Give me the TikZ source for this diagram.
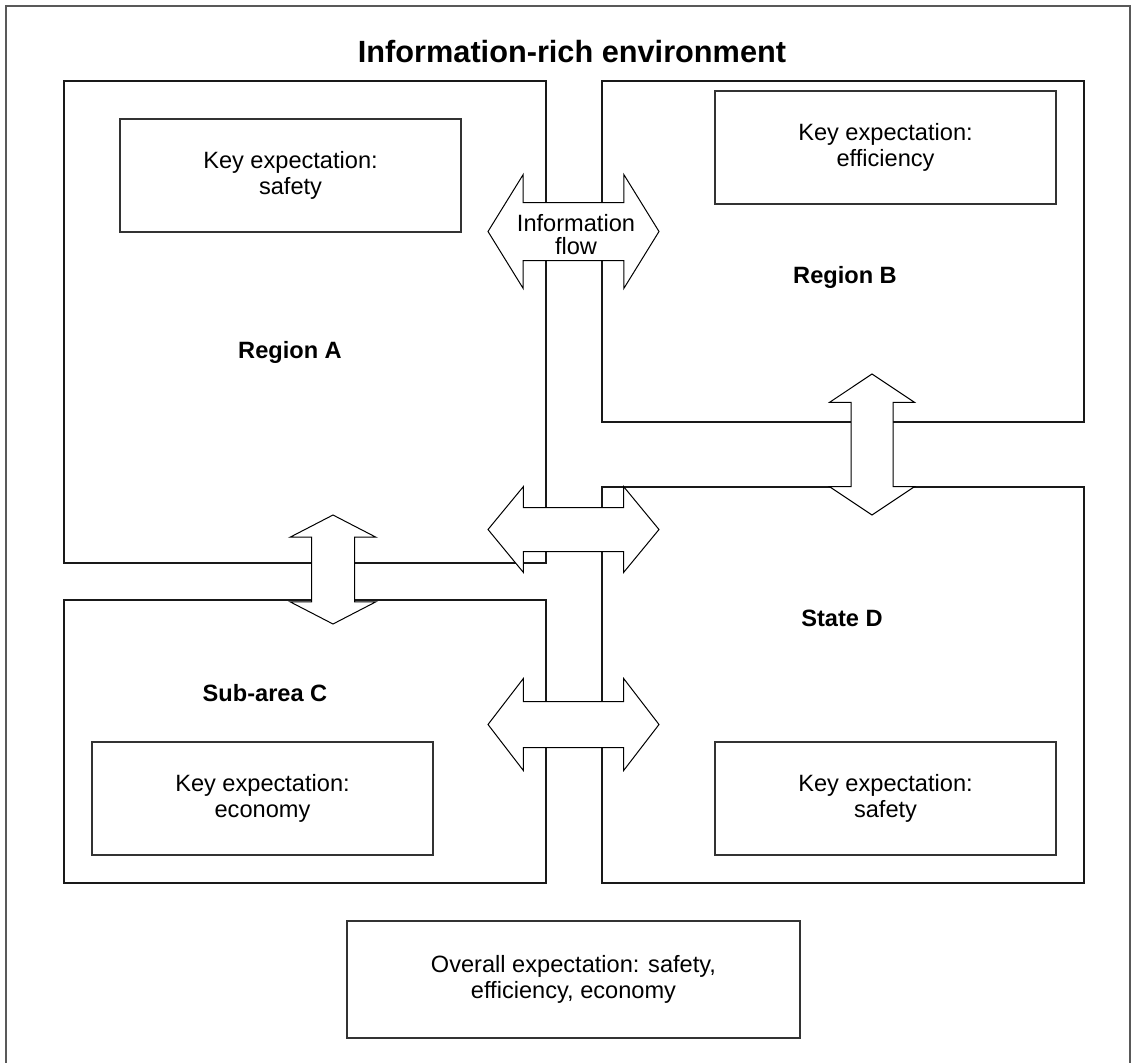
\documentclass[tikz,border=0pt]{standalone}
\usepackage{fontspec}
\setmainfont{Liberation Sans}
\usetikzlibrary{shapes.arrows}

\begin{document}
\begin{tikzpicture}[x=1pt,y=-1pt]

\tikzset{region/.style = {draw=black!90, line width=2.6pt, inner sep=0pt}}
\tikzset{keybox/.style = {draw=black!80, line width=1.2pt, inner sep=0pt, minimum width=341, minimum height=113, align=center, font=\fontsize{23.6}{26.5}\selectfont}}
\tikzset{regionname/.style = {font=\fontsize{23.6}{26.5}\selectfont\bfseries}}
\tikzset{flow/.style = {double arrow, draw=black, fill=white, line width=1pt, inner sep=0pt}}
\useasboundingbox (0,0) rectangle (1134,1062);

%frame
\draw[black!65, line width=1.2pt] (6,1070) -- (6,6) -- (1130,6) -- (1130,1070);
\node[font=\fontsize{30.7}{36}\selectfont\bfseries, anchor=base] (title) at (572,63) {Information-rich environment};

%regions
\node[region, minimum width=482, minimum height=482] (regA) at (305,322) {};
\node[region, minimum width=482, minimum height=341] (regB) at (843,251.5) {};
\node[region, minimum width=482, minimum height=283] (regC) at (305,741.5) {};
\node[region, minimum width=482, minimum height=396] (regD) at (843,685) {};

\node[regionname] (nameA) at (290,352) {Region A};
\node[regionname] (nameB) at (845,277) {Region B};
\node[regionname] (nameC) at (265,693) {Sub-area C};
\node[regionname] (nameD) at (842,618) {State D};

%expectations
\node[keybox] (keyA) at (290.5,175.5) {Key expectation:\\safety};
\node[keybox] (keyB) at (885.5,147.5) {Key expectation:\\efficiency};
\node[keybox] (keyC) at (262.5,798.5) {Key expectation:\\economy};
\node[keybox] (keyD) at (885.5,798.5) {Key expectation:\\safety};
\node[keybox, minimum width=453, minimum height=117] (overall) at (573.5,979.5) {Overall expectation: safety,\\efficiency, economy};

%flows
\node[flow, inner ysep=28.5, minimum height=171, double arrow head extend=28, double arrow tip angle=116.6] (flowAB) at (573.5,231.5) {};
\node[flow, inner ysep=21.5, minimum height=171, double arrow head extend=21, double arrow tip angle=101] (flowAD) at (573.5,529.5) {};
\node[flow, inner ysep=22.5, minimum height=171, double arrow head extend=23, double arrow tip angle=104.9] (flowCD) at (573.5,724.5) {};
\node[flow, rotate=90, inner ysep=21, minimum height=109, double arrow head extend=21.5, double arrow tip angle=125.3] (flowAC) at (333,569.5) {};
\node[flow, rotate=90, inner ysep=20.5, minimum height=141, double arrow head extend=21.5, double arrow tip angle=112.6] (flowBD) at (872,444.5) {};
\node[font=\fontsize{23.6}{23}\selectfont, align=center] (flowtext) at (576,235) {Information\\flow};
\end{tikzpicture}
\end{document}
